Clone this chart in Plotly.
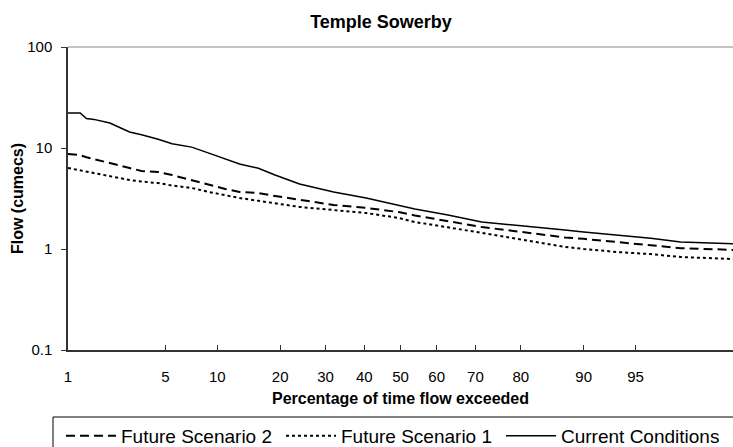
from statistics import NormalDist
import plotly.graph_objects as go

# Flow duration curves, Temple Sowerby
percent_exceeded = [1, 1.25, 1.4, 1.6, 2.1, 2.9, 3.5, 4.5, 5.5, 7.2, 9, 11, 13, 16, 19,
                    24, 32, 40.5, 49.5, 54, 63, 71.5, 78.5, 85, 87.5, 90, 93.5, 96, 97.5, 99]

current_conditions = [22.2, 22.2, 19.6, 19.2, 17.7, 14.4, 13.5, 12.2, 11.0, 10.2, 8.9, 7.8, 6.95, 6.3, 5.4,
                      4.4, 3.67, 3.2, 2.73, 2.49, 2.17, 1.85, 1.73, 1.58, 1.54, 1.47, 1.38, 1.28, 1.17, 1.13]
future_scenario_2 = [8.72, 8.5, 8.1, 7.78, 7.1, 6.34, 5.92, 5.79, 5.4, 4.82, 4.3, 3.93, 3.67, 3.58, 3.35,
                     3.06, 2.73, 2.55, 2.32, 2.15, 1.87, 1.65, 1.51, 1.35, 1.3, 1.26, 1.17, 1.1, 1.02, 0.98]
future_scenario_1 = [6.34, 6.0, 5.85, 5.66, 5.25, 4.82, 4.65, 4.5, 4.25, 4.02, 3.67, 3.4, 3.2, 3.0, 2.85,
                     2.61, 2.43, 2.27, 2.03, 1.85, 1.64, 1.44, 1.28, 1.12, 1.05, 1.0, 0.934, 0.89, 0.833, 0.796]

x_ticks = [1, 5, 10, 20, 30, 40, 50, 60, 70, 80, 90, 95]
y_ticks = [0.1, 1, 10, 100]
y_tick_labels = ["0.1", "1", "10", "100"]

# normal probability scale for the x axis
nd = NormalDist()


def prob(p):
    return nd.inv_cdf(p / 100)


x_vals = [prob(p) for p in percent_exceeded]

fig = go.Figure()
fig.add_trace(go.Scatter(x=x_vals, y=future_scenario_2, mode="lines", name="Future Scenario 2",
                         line=dict(color="black", width=2, dash="9px,5px")))
fig.add_trace(go.Scatter(x=x_vals, y=future_scenario_1, mode="lines", name="Future Scenario 1",
                         line=dict(color="black", width=2, dash="3px,3px")))
fig.add_trace(go.Scatter(x=x_vals, y=current_conditions, mode="lines", name="Current Conditions",
                         line=dict(color="black", width=1.5)))

font_family = "Liberation Sans, Arial, sans-serif"
box_x = (53 - 68) / 665
legend_y = (350 - 417) / 303

fig.update_layout(
    width=733, height=447,
    margin=dict(l=68, r=0, t=47, b=97, autoexpand=False),
    paper_bgcolor="white", plot_bgcolor="white",
    font=dict(family=font_family, color="black", size=15),
    title=dict(text="<b>Temple Sowerby</b>", x=381 / 733, xanchor="center", xref="container",
               y=1 - 22 / 447, yanchor="middle", font=dict(size=18)),
    xaxis=dict(
        range=[prob(1), prob(99)],
        tickvals=[prob(p) for p in x_ticks],
        ticktext=[str(p) for p in x_ticks],
        ticks="inside", ticklen=5, tickcolor="#333", tickwidth=1.3,
        showline=True, linecolor="#333", linewidth=1.5,
        showgrid=False, zeroline=False,
        ticklabelstandoff=12,
        tickfont=dict(size=15),
        title=dict(text="<b>Percentage of time flow exceeded</b>", font=dict(size=16), standoff=9),
    ),
    yaxis=dict(
        type="log", range=[-1, 2],
        tickvals=y_ticks, ticktext=y_tick_labels,
        ticks="outside", ticklen=5, tickcolor="#333", tickwidth=1.3,
        showline=True, linecolor="#333", linewidth=1.5,
        showgrid=False, zeroline=False,
        ticklabelstandoff=6,
        tickfont=dict(size=15),
        title=dict(text="<b>Flow (cumecs)</b>", font=dict(size=16), standoff=0),
    ),
    shapes=[
        # thin frame line along the top of the plot area
        dict(type="line", xref="paper", yref="paper", x0=0, x1=1, y0=1, y1=1,
             line=dict(color="#888", width=1)),
        # legend box, running off the bottom/right edge like the original
        dict(type="rect", xref="paper", yref="paper", x0=box_x, x1=1.05,
             y0=legend_y - 0.15, y1=legend_y, line=dict(color="black", width=1)),
    ],
    legend=dict(
        orientation="h", x=(61 - 68) / 665, y=legend_y,
        xanchor="left", yanchor="top",
        borderwidth=0, bgcolor="rgba(0,0,0,0)",
        font=dict(size=19), itemwidth=50, entrywidth=155,
    ),
)

fig.write_html("out.html", config={"displayModeBar": False},
               post_script="document.body.style.margin = '0';")
